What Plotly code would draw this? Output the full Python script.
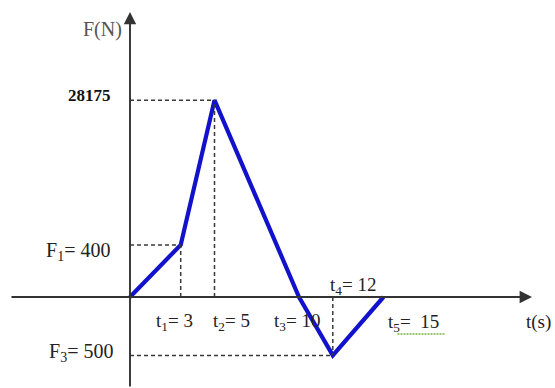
import numpy as np
import plotly.graph_objects as go

# Load profile: time instants (s) and force values (N)
times = [0, 3, 5, 10, 12, 15]
forces = [0, 400, 28175, 0, -500, 0]

# Tick-style labels written next to the key instants
t_labels = ["t<sub>1</sub>= 3", "t<sub>2</sub>= 5", "t<sub>3</sub>= 10", "t<sub>4</sub>= 12", "t<sub>5</sub>=  15"]
t_label_times = [3, 5, 10, 12, 15]


def squash(v):
    """Symmetric log compression of the force axis so the small loads
    stay readable next to the large peak."""
    v = np.asarray(v, dtype=float)
    return np.sign(v) * np.log1p(np.abs(v) / 125.0)


W, H = 555, 388
X0_PX, Y0_PX = 130, 297          # where the axes cross
PX_PER_S = 16.9
PX_PER_UNIT = 36.3

x_range = [-X0_PX / PX_PER_S, (W - X0_PX) / PX_PER_S]
y_range = [-(H - Y0_PX) / PX_PER_UNIT, Y0_PX / PX_PER_UNIT]

ys = squash(forces)
blue = "#1212cc"
ink = "#222222"
guide = "#3a3a3a"
serif = "Liberation Serif, Times New Roman, serif"

fig = go.Figure()

fig.add_trace(go.Scatter(
    x=times, y=ys, mode="lines",
    line=dict(color=blue, width=4.2),
    hoverinfo="skip", showlegend=False,
))

# Dashed projection lines from the notable points to the axes
shapes = []
for i in (1, 2, 4):
    shapes.append(dict(type="line", xref="x", yref="y",
                       x0=0, x1=times[i], y0=ys[i], y1=ys[i],
                       line=dict(color=guide, width=1.5, dash="4px,3px")))
    shapes.append(dict(type="line", xref="x", yref="y",
                       x0=times[i], x1=times[i], y0=0, y1=ys[i],
                       line=dict(color=guide, width=1.5, dash="4px,3px")))

# Wavy proofing underline beneath the last time label (pixel offsets)
shapes.append(dict(type="line", xref="x", yref="y",
                   xsizemode="pixel", ysizemode="pixel",
                   xanchor=t_label_times[-1], yanchor=0,
                   x0=14, x1=62, y0=-37, y1=-37,
                   line=dict(color="#7cb342", width=1.5, dash="2px,1px")))

annotations = []

# Axes drawn as arrows
annotations.append(dict(
    x=532 / W, y=0, xref="paper", yref="y",
    ax=-(532 - 10), ay=0, axref="pixel", ayref="pixel",
    showarrow=True, arrowhead=2, arrowsize=1.3, arrowwidth=1.9,
    arrowcolor="#333333", text="", standoff=0))
annotations.append(dict(
    x=0, y=1 - 12 / H, xref="x", yref="paper",
    ax=0, ay=H - 12, axref="pixel", ayref="pixel",
    showarrow=True, arrowhead=2, arrowsize=1.3, arrowwidth=1.9,
    arrowcolor="#333333", text="", standoff=0))

# Axis titles
annotations.append(dict(x=102 / W, y=1 - 30 / H, xref="paper", yref="paper",
                        xanchor="center", yanchor="middle",
                        text="F(N)", showarrow=False,
                        font=dict(family=serif, size=20, color="#555555")))
annotations.append(dict(x=538 / W, y=1 - 322 / H, xref="paper", yref="paper",
                        xanchor="center", yanchor="middle",
                        text="t(s)", showarrow=False,
                        font=dict(family=serif, size=19, color=ink)))

# Force labels on the left of the vertical axis
annotations.append(dict(x=0, y=ys[2], xref="x", yref="y", xanchor="right",
                        xshift=-17, yshift=5, text=f"<b>{forces[2]}</b>", showarrow=False,
                        font=dict(family=serif, size=17, color="#111111")))
annotations.append(dict(x=0, y=ys[1], xref="x", yref="y", xanchor="right",
                        xshift=-18, yshift=-7,
                        text=f"F<sub>1</sub>= {forces[1]}", showarrow=False,
                        font=dict(family=serif, size=20, color=ink)))
annotations.append(dict(x=0, y=ys[4], xref="x", yref="y", xanchor="right",
                        xshift=-15, yshift=3,
                        text=f"F<sub>3</sub>= {abs(forces[4])}", showarrow=False,
                        font=dict(family=serif, size=20, color=ink)))

# Time labels along the horizontal axis
placement = {
    3: dict(xanchor="center", xshift=-6, yshift=-25),
    5: dict(xanchor="left", xshift=-4, yshift=-25),
    10: dict(xanchor="center", xshift=-2, yshift=-25),
    12: dict(xanchor="left", xshift=-5, yshift=11),
    15: dict(xanchor="left", xshift=2, yshift=-26),
}
for lab, t in zip(t_labels, t_label_times):
    p = placement[t]
    annotations.append(dict(x=t, y=0, xref="x", yref="y", text=lab,
                            showarrow=False, yanchor="middle",
                            font=dict(family=serif, size=19, color=ink), **p))

fig.update_layout(
    width=W, height=H, autosize=False,
    margin=dict(l=0, r=0, t=0, b=0),
    paper_bgcolor="white", plot_bgcolor="white",
    xaxis=dict(range=x_range, visible=False, fixedrange=True),
    yaxis=dict(range=y_range, visible=False, fixedrange=True),
    shapes=shapes, annotations=annotations,
)

fig.write_html("out.html")
